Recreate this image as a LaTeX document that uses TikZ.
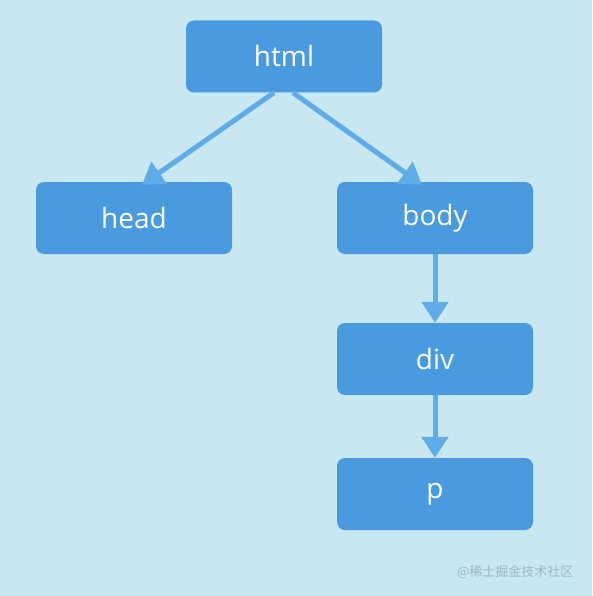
\documentclass[tikz,border=0pt]{standalone}
\usepackage{fontspec}
\setmainfont{Open Sans}
\newfontfamily\cjkfont{Noto Sans CJK SC}
\usetikzlibrary{arrows.meta}
\definecolor{bgblue}{RGB}{201,231,240}
\definecolor{boxblue}{RGB}{74,154,224}
\definecolor{arrowblue}{RGB}{94,172,232}
\definecolor{markgray}{RGB}{160,184,194}
\tikzset{
  tag/.style={draw=none, fill=boxblue, rounded corners=8pt, minimum width=196pt,
    minimum height=72pt, text=white, font=\fontsize{28}{32}\selectfont},
  link/.style={draw=arrowblue, line width=5pt, -{Triangle[width=26pt,length=21pt]}}
}
\begin{document}
\begin{tikzpicture}[x=1pt, y=-1pt]
    \fill[bgblue] (0,0) rectangle (592,596);
    \useasboundingbox (0,0) rectangle (592,596);
    \node[tag] (html) at (284,56.5) {html};
    \node[tag] (head) at (134,218) {head};
    \node[tag] (body) at (435,218) {body};
    \node[tag] (div) at (435,359) {div};
    \node[tag] (p) at (435,494) {p};
    \draw[link] ([xshift=-10pt]html.south) -- ([xshift=8pt, yshift=-3pt]head.north);
    \draw[link] ([xshift=9pt]html.south) -- ([xshift=-13pt, yshift=-3pt]body.north);
    \draw[link] (body.south) -- (div.north);
    \draw[link] (div.south) -- (p.north);
    \node[text=markgray, font=\cjkfont\fontsize{13}{15}\selectfont, anchor=east] (mark) at (577,572) {@稀土掘金技术社区};
\end{tikzpicture}
\end{document}
